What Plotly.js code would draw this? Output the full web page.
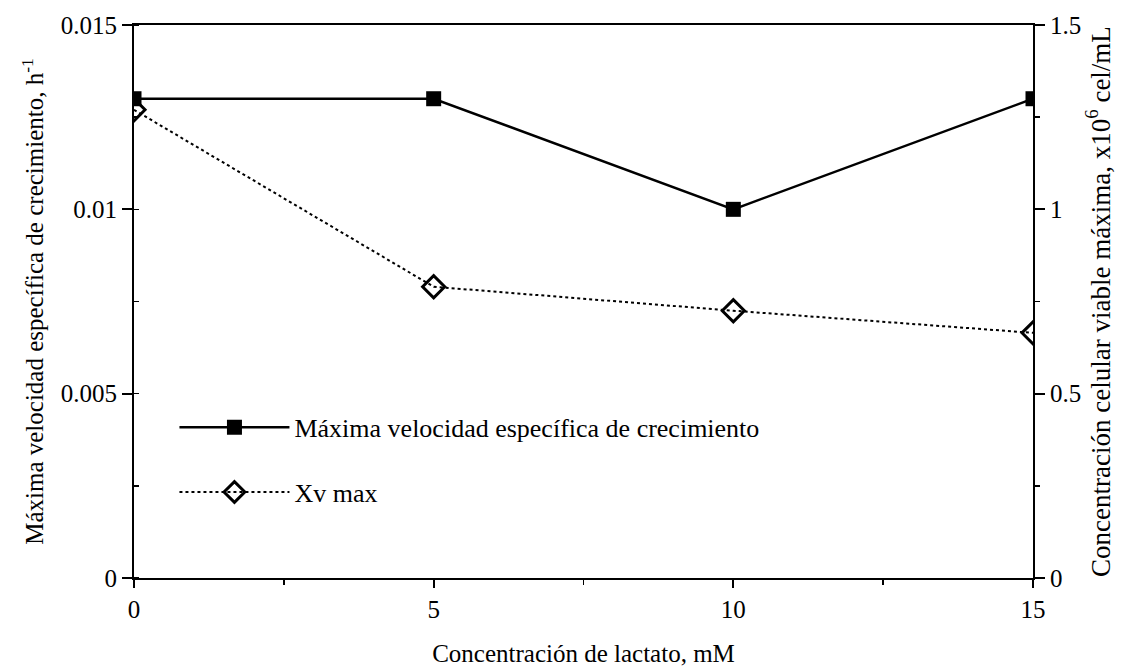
<!DOCTYPE html>
<html>
<head>
<meta charset="utf-8">
<script src="https://cdn.plot.ly/plotly-3.0.1.min.js"></script>
<style>html,body{margin:0;padding:0;background:#fff;}#chart{width:1134px;height:670px;}</style>
</head>
<body>
<div id="chart"></div>
<script>
const lactato = [0, 5, 10, 15];
const velocidadMax = [0.013, 0.013, 0.010, 0.013];
const xvMax = [1.27, 0.79, 0.725, 0.665];
const serie1Name = 'Máxima velocidad específica de crecimiento';
const serie2Name = 'Xv max';

const fam = 'Liberation Serif, Times New Roman, serif';
const font = {family: fam, size: 25, color: '#000'};
const legendFont = {family: fam, size: 26, color: '#000'};
const rightTitleFont = {family: fam, size: 27, color: '#000'};
const tickFont = {family: fam, size: 25, color: '#000'};

const traces = [
  {
    x: lactato, y: velocidadMax, name: serie1Name, type: 'scatter', mode: 'lines+markers',
    line: {color: '#000', width: 2.5},
    marker: {symbol: 'square', size: 15, color: '#000'},
    yaxis: 'y', legendgroup: 'a'
  },
  {
    x: lactato, y: xvMax, name: serie2Name, type: 'scatter', mode: 'lines+markers',
    line: {color: '#000', width: 2, dash: 'dot'},
    marker: {symbol: 'diamond-open', size: 17, color: '#000', line: {width: 3, color: '#000'}},
    yaxis: 'y2', legendgroup: 'b'
  }
];

const layout = {
  width: 1134, height: 670,
  margin: {l: 134, r: 101, t: 25, b: 92},
  paper_bgcolor: '#fff', plot_bgcolor: '#fff',
  font: font,
  showlegend: true,
  legend: {x: 0.045, y: 0.315, xanchor: 'left', yanchor: 'top', bgcolor: 'rgba(0,0,0,0)',
           font: legendFont, traceorder: 'grouped', tracegroupgap: 28, itemwidth: 110},
  xaxis: {
    range: [0, 15], tickvals: [0, 5, 10, 15], ticks: 'outside', ticklen: 8, tickwidth: 2,
    showline: true, linecolor: '#000', linewidth: 2, mirror: true, showgrid: false, zeroline: false,
    minor: {dtick: 2.5, ticks: 'outside', ticklen: 5, tickwidth: 1.5, tickcolor: '#000', showgrid: false},
    tickcolor: '#000', tickfont: tickFont,
    title: {text: 'Concentración de lactato, mM', font: font, standoff: 22}
  },
  yaxis: {
    range: [0, 0.015], tickvals: [0, 0.005, 0.01, 0.015], ticktext: ['0', '0.005', '0.01', '0.015'],
    ticks: 'outside', ticklen: 10, tickwidth: 2, tickcolor: '#000',
    showline: true, linecolor: '#000', linewidth: 2, showgrid: false, zeroline: false,
    minor: {dtick: 0.0025, ticks: 'inside', ticklen: 5, tickwidth: 1.5, tickcolor: '#000', showgrid: false},
    tickfont: tickFont,
    title: {text: 'Máxima velocidad específica de crecimiento, h<sup>-1</sup>', font: font, standoff: 10}
  },
  yaxis2: {
    overlaying: 'y', side: 'right',
    range: [0, 1.5], tickvals: [0, 0.5, 1, 1.5], ticktext: ['0', '0.5', '1', '1.5'],
    ticks: 'outside', ticklen: 10, tickwidth: 2, tickcolor: '#000',
    showline: true, linecolor: '#000', linewidth: 2, showgrid: false, zeroline: false,
    minor: {dtick: 0.25, ticks: 'outside', ticklen: 5, tickwidth: 1.5, tickcolor: '#000', showgrid: false},
    tickfont: tickFont,
    title: {text: 'Concentración celular viable máxima, x10<sup>6</sup> cel/mL', font: rightTitleFont, standoff: 10}
  }
};

Plotly.newPlot('chart', traces, layout, {displayModeBar: false, staticPlot: true});
</script>
</body>
</html>
